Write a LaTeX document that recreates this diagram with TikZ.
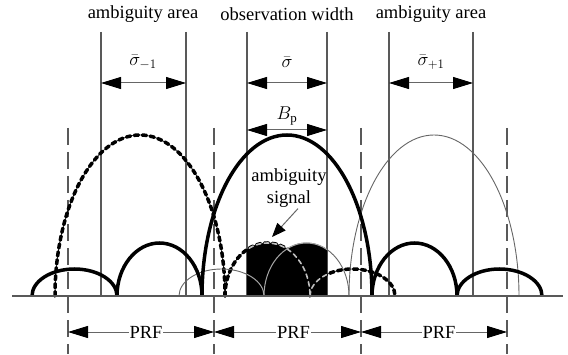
\documentclass[tikz,border=0pt]{standalone}
\usepackage{fix-cm}
\usepackage{fontspec}
\setmainfont{Liberation Serif}
\usetikzlibrary{arrows.meta}

\begin{document}
\begin{tikzpicture}[x=1pt, y=1pt,
    lbl/.style={font=\fontsize{18.5}{22}\selectfont, inner sep=1pt},
    guide/.style={draw=black!65, line width=1.1pt},
    prfline/.style={draw=black!65, line width=1.3pt, dash pattern=on 17pt off 7pt},
    dim/.style={{Triangle[length=20pt,width=12pt,color=black]}-{Triangle[length=20pt,width=12pt,color=black]}, draw=black!60, line width=1pt},
    lobe/.style={line width=3.5pt},
    ghost/.style={line width=3.5pt, line cap=round, dash pattern=on 4.5pt off 3.5pt},
    faint/.style={draw=black!60, line width=0.9pt},
    arrow/.style={-{Triangle[length=14pt,width=11pt,color=black]}, draw=black!60, line width=1pt}
]
\useasboundingbox (0,0) rectangle (568,354);

% region borders
\foreach \x/\n in {101/a, 186/b, 247/c, 327/d, 389/e, 473/f} {
  \coordinate (top\n) at (\x,322);
  \coordinate (bot\n) at (\x,58);
  \draw[guide] (top\n) -- (bot\n);
}
% PRF marks
\foreach \x/\n in {68/1, 214/2, 361/3, 507/4} {
  \coordinate (p\n) at (\x,22);
  \coordinate (pt\n) at (\x,226);
  \coordinate (pb\n) at (\x,0);
  \draw[prfline] (pt\n) -- (pb\n);
}

% headings
\node[lbl] (amb1) at (143,340) {ambiguity area};
\node[lbl] (obs) at (287,340) {observation width};
\node[lbl] (amb2) at (431,340) {ambiguity area};

% widths
\coordinate (s1l) at (101,271); \coordinate (s1r) at (186,271);
\coordinate (s0l) at (247,271); \coordinate (s0r) at (327,271);
\coordinate (s2l) at (389,271); \coordinate (s2r) at (473,271);
\coordinate (bpl) at (247,224); \coordinate (bpr) at (327,224);
\draw[dim] (s1l) -- (s1r);
\draw[dim] (s0l) -- (s0r);
\draw[dim] (s2l) -- (s2r);
\draw[dim] (bpl) -- (bpr);
\node[lbl] (sm1) at (143,292) {$\bar{\sigma}_{-1}$};
\node[lbl] (s0) at (287,292) {$\bar{\sigma}$};
\node[lbl] (sp1) at (431,292) {$\bar{\sigma}_{+1}$};
\node[lbl] (bp) at (287,238) {$B_{\mathrm{p}}$};

% lobe shifted by -PRF
\draw[ghost] (55,58) arc[start angle=180, end angle=0, x radius=85pt, y radius=161pt];
\draw[ghost] (225,58) arc[start angle=180, end angle=0, x radius=42.5pt, y radius=53pt];
\draw[ghost] (310,58) arc[start angle=180, end angle=0, x radius=42.5pt, y radius=27pt];
% lobe shifted by +PRF
\draw[faint] (349,58) arc[start angle=180, end angle=0, x radius=85pt, y radius=161pt];
\draw[faint] (264,58) arc[start angle=180, end angle=0, x radius=42.5pt, y radius=53pt];
\draw[faint] (179,58) arc[start angle=180, end angle=0, x radius=42.5pt, y radius=27pt];
% main lobe
\draw[lobe] (202,58) arc[start angle=180, end angle=0, x radius=85pt, y radius=161pt];
\foreach \c/\h in {74.5/27, 159.5/53, 414.5/53, 499.5/27}
  \draw[lobe] ({\c-42.5},58) arc[start angle=180, end angle=0, x radius=42.5pt, y radius=\h pt];

% ambiguity signal inside the observation width
\begin{scope}
  \clip (247,58) rectangle (327,140);
  \fill (225,58) arc[start angle=180, end angle=0, x radius=42.5pt, y radius=53pt] -- cycle;
  \fill (264,58) arc[start angle=180, end angle=0, x radius=42.5pt, y radius=53pt] -- cycle;
  \draw[ghost, draw=black!25, line width=1.6pt] (225,58) arc[start angle=180, end angle=0, x radius=42.5pt, y radius=53pt];
  \draw[ghost, draw=black!25, line width=1.6pt] (310,58) arc[start angle=180, end angle=0, x radius=42.5pt, y radius=27pt];
  \draw[draw=black!35, line width=1pt] (264,58) arc[start angle=180, end angle=0, x radius=42.5pt, y radius=53pt];
  \draw[draw=black!35, line width=1pt] (179,58) arc[start angle=180, end angle=0, x radius=42.5pt, y radius=27pt];
\end{scope}

\node[lbl, align=center] (sig) at (289,166) {ambiguity\\signal};
\coordinate (hit) at (272,117);
\draw[arrow] ([xshift=9pt]sig.south) -- (hit);

% axis
\coordinate (basel) at (12,58);
\coordinate (baser) at (563,58);
\draw[draw=black!65, line width=1.8pt] (basel) -- (baser);

% PRF spacing
\draw[dim] (p1) -- (p2) node[lbl, midway, fill=white, xshift=5pt] (prf1) {PRF};
\draw[dim] (p2) -- (p3) node[lbl, midway, fill=white, xshift=6pt] (prf2) {PRF};
\draw[dim] (p3) -- (p4) node[lbl, midway, fill=white, xshift=5pt] (prf3) {PRF};
\end{tikzpicture}
\end{document}
